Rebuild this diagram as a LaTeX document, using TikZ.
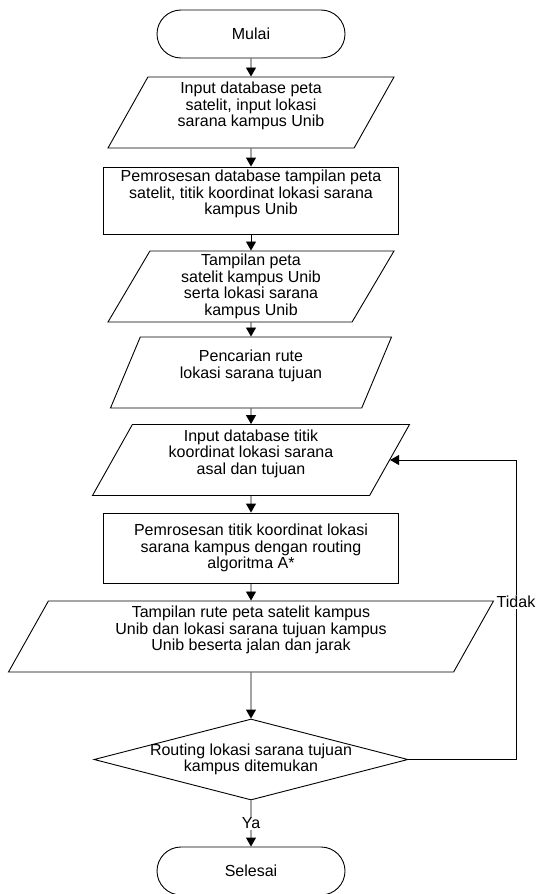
\documentclass[tikz,border=0pt]{standalone}
\usepackage{fontspec}
\setmainfont{Liberation Sans}
\usetikzlibrary{arrows.meta,shapes.geometric,shapes.misc}

\begin{document}
\begin{tikzpicture}[->,>={Triangle[length=9pt,width=10pt]},line width=0.9pt,x=1pt,y=-1pt]
    \tikzstyle{box}=[draw=black, font=\fontsize{16pt}{16.5pt}\selectfont, align=center, inner sep=2pt, text=black]
    \tikzstyle{ujung}=[style=box, rounded rectangle, minimum width=192pt, minimum height=48pt]
    \tikzstyle{io}=[style=box, trapezium, trapezium left angle=58.5, trapezium right angle=121.5, trapezium stretches body, minimum height=71pt]
    \tikzstyle{proses}=[style=box, rectangle, minimum width=295pt]
    \tikzstyle{putusan}=[draw=black, diamond, aspect=3.88, minimum width=314pt, minimum height=81pt, inner sep=0pt]
    \tikzstyle{isi}=[font=\fontsize{16pt}{16.5pt}\selectfont, align=center, inner sep=0pt]
    \tikzstyle{ket}=[style=isi, fill=white, inner sep=1pt]

    \useasboundingbox (0,0) rectangle (537,894);

    \node[ujung]                     (mulai)   at (251,34)    {Mulai};
    \node[io, minimum width=286pt]   (in1)     at (251,112.5) {Input database peta\\satelit, input lokasi\\sarana kampus Unib\\ \mbox{}};
    \node[proses, minimum height=67pt] (proc1) at (251,200.5) {Pemrosesan database tampilan peta\\satelit, titik koordinat lokasi sarana\\kampus Unib\\ \mbox{}};
    \node[io, minimum width=286pt]   (tamp1)   at (251,286.5) {Tampilan peta\\satelit kampus Unib\\serta lokasi sarana\\kampus Unib};
    \node[io, minimum width=281pt]   (cari)    at (251,372.5) {Pencarian rute\\lokasi sarana tujuan\\ \mbox{}};
    \node[io, minimum width=317pt]   (in2)     at (251,460)   {Input database titik\\koordinat lokasi sarana\\asal dan tujuan\\ \mbox{}};
    \node[proses, minimum height=70pt] (proc2) at (251,548)   {Pemrosesan titik koordinat lokasi\\sarana kampus dengan routing\\algoritma A*};
    \node[io, minimum width=485pt]   (tamp2)   at (251,636.5) {Tampilan rute peta satelit kampus\\Unib dan lokasi sarana tujuan kampus\\Unib beserta jalan dan jarak\\ \mbox{}};
    \node[putusan]                   (cek)     at (251,759.5) {};
    \node[isi]                       (cekteks) at (cek)       {Routing lokasi sarana tujuan\\kampus ditemukan};
    \node[ujung]                     (selesai) at (251,871)   {Selesai};
    \coordinate (putar) at (516,759.5);

    \path
     (mulai) edge (in1)
     (in1)   edge (proc1)
     (proc1) edge (tamp1)
     (tamp1) edge (cari)
     (cari)  edge (in2)
     (in2)   edge (proc2)
     (proc2) edge (tamp2)
     (tamp2) edge (cek)
     (cek)   edge node[ket] {Ya} (selesai)
     ;
    \draw (cek.east) -- (putar) |- node[ket, pos=0.263] {Tidak} (in2.east);
\end{tikzpicture}
\end{document}
